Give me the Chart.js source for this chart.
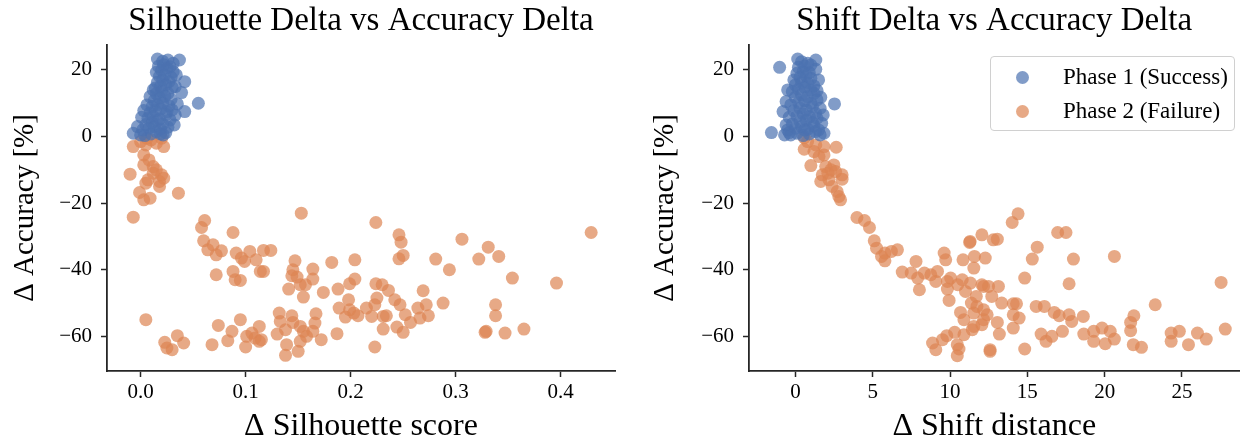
<!DOCTYPE html>
<html>
<head>
<meta charset="utf-8">
<script src="https://cdn.jsdelivr.net/npm/chart.js@4.4.0/dist/chart.umd.min.js"></script>
<style>
  body { margin: 0; background: #fff; }
  #wrap { position: relative; width: 1246px; height: 444px; overflow: hidden; }
  .box { position: absolute; top: 0; height: 444px; }
  #legend {
    position: absolute; left: 990px; top: 56px; width: 245px; height: 75px;
    border: 1px solid #d0d0d0; border-radius: 4px; background: rgba(255,255,255,0.8);
    font-family: 'Liberation Serif', 'DejaVu Serif', serif; font-size: 23px; color: #000;
    box-sizing: border-box;
  }
  .row { position: absolute; left: 0; height: 30px; line-height: 30px; white-space: nowrap; }
  .dot { position: absolute; left: 25px; top: 9px; width: 13px; height: 13px; border-radius: 50%; }
  .lbl { position: absolute; left: 72px; top: 0; }
</style>
</head>
<body>
<div id="wrap">
  <div class="box" style="left:0;width:640px"><canvas id="silChart"></canvas></div>
  <div class="box" style="left:640px;width:606px"><canvas id="shiftChart"></canvas></div>
  <div id="legend"></div>
</div>
<script>
// series labels and tick values
const seriesLabels = ['Phase 1 (Success)', 'Phase 2 (Failure)'];
const accTicks = [-60, -40, -20, 0, 20];
const silTicks = [0, 0.1, 0.2, 0.3, 0.4];
const shiftTicks = [0, 5, 10, 15, 20, 25];

// Phase 1: silhouette delta / accuracy delta
const sil1 = [
  -0.007, 0.000, 0.004, 0.010, 0.015, 0.0215, 0.024, 0.002, 0.008, 0.013, 0.019, 0.005, 0.011, 0.016, 0.021,
  0.007, 0.012, 0.018, 0.024, 0.033, 0.009, 0.014, 0.019, 0.025, 0.042, 0.011, 0.016, 0.021, 0.027, 0.055,
  0.013, 0.018, 0.023, 0.029, 0.015, 0.020, 0.026, 0.039, 0.014, 0.019, 0.024, 0.030, 0.016, 0.021, 0.027,
  0.042, 0.018, 0.023, 0.029, 0.015, 0.020, 0.025, 0.031, 0.017, 0.022, 0.028, 0.016, 0.026, 0.037, 0.021,
  0.006, 0.009, 0.032, 0.028, 0.035, 0.034, -0.003, 0.001, 0.003, 0.026, 0.030, 0.012, 0.033, 0.031, 0.019
];
const accSil1 = [
  1.0, 0.5, 0.3, 0.8, 1.5, 0.5, 1.2, 2.0, 2.6, 3.0, 2.2, 3.6, 4.2, 4.8, 3.8,
  5.5, 6.1, 5.3, 6.6, 6.5, 7.1, 7.8, 8.3, 7.5, 7.5, 9.0, 9.6, 10.1, 9.2, 10.0,
  10.8, 11.6, 12.1, 11.2, 12.9, 13.6, 13.0, 13.2, 14.6, 15.1, 15.6, 14.8, 16.3, 17.0, 16.5,
  16.5, 18.1, 18.6, 17.8, 19.3, 19.9, 20.6, 19.5, 21.1, 21.6, 21.0, 23.3, 23.0, 23.0, 22.6,
  9.5, 12.0, 3.5, 5.0, 9.8, 18.5, 3.0, 5.8, 7.8, 2.8, 8.0, 14.0, 15.0, 22.0, 0.8
];

// Phase 2: silhouette delta / accuracy delta
const sil2 = [
  -0.007, 0.006, 0.015, 0.000, 0.010, 0.020, 0.022, 0.005, 0.003, 0.003, 0.008, 0.012, 0.015, 0.020, 0.022,
  -0.010, 0.012, 0.007, 0.018, 0.018, 0.005, -0.001, 0.009, 0.003, 0.036, -0.007, 0.153,
  0.061, 0.058, 0.088, 0.060, 0.069, 0.064, 0.077, 0.072, 0.091, 0.096, 0.099, 0.104, 0.110, 0.117, 0.124,
  0.114, 0.117, 0.072, 0.088, 0.090, 0.095, 0.147, 0.145, 0.144, 0.149, 0.152, 0.157, 0.141, 0.155, 0.164,
  0.164, 0.174, 0.182, 0.188, 0.198, 0.189, 0.199, 0.195, 0.203, 0.204, 0.204, 0.187,
  0.005, 0.023, 0.025, 0.030, 0.035, 0.041, 0.068, 0.074, 0.083, 0.087, 0.095, 0.101, 0.100, 0.106, 0.113,
  0.113, 0.115, 0.109, 0.130, 0.132, 0.133, 0.138, 0.144, 0.145, 0.139, 0.138, 0.150, 0.152, 0.155, 0.158,
  0.164, 0.166, 0.167, 0.172, 0.152,
  0.224, 0.246, 0.248, 0.250, 0.246, 0.281, 0.294, 0.306, 0.331, 0.322, 0.341, 0.354, 0.396, 0.429, 0.338,
  0.338, 0.329, 0.328, 0.347, 0.365,
  0.199, 0.207, 0.224, 0.230, 0.236, 0.225, 0.223, 0.215, 0.220, 0.231, 0.234, 0.231, 0.223, 0.242, 0.247,
  0.252, 0.257, 0.244, 0.250, 0.269, 0.264, 0.272, 0.274, 0.266, 0.288
];
const accSil2 = [
  -3.0, -0.5, -2.0, -1.5, -1.0, -0.5, -3.0, -2.5, -5.5, -8.5, -7.0, -9.0, -10.0, -11.5, -12.5,
  -11.3, -11.0, -13.0, -13.5, -15.0, -14.0, -16.8, -18.5, -19.0, -17.0, -24.2, -23.0,
  -25.2, -27.3, -28.8, -31.3, -32.5, -34.0, -34.3, -35.5, -35.0, -36.5, -37.5, -34.5, -37.0, -34.2, -34.2,
  -40.5, -40.5, -41.5, -40.5, -43.0, -43.2, -37.3, -40.0, -41.8, -42.2, -44.5, -44.5, -45.8, -48.2, -39.8,
  -42.8, -46.8, -37.8, -45.8, -49.0, -51.5, -52.0, -54.2, -53.0, -42.8, -37.0, -59.2,
  -55.0, -61.8, -63.5, -64.0, -59.8, -62.0, -62.5, -56.7, -61.3, -58.5, -55.0, -60.0, -63.2, -59.0, -57.0,
  -61.5, -61.0, -60.5, -59.3, -53.0, -55.5, -58.0, -53.8, -55.8, -62.5, -65.7, -64.5, -61.5, -58.5, -60.0,
  -58.5, -56.0, -53.2, -61.0, -57.0,
  -25.8, -29.5, -31.7, -35.7, -36.7, -36.8, -40.0, -30.8, -33.2, -36.8, -36.0, -42.5, -44.0, -28.8, -50.5,
  -53.8, -58.5, -58.8, -59.0, -57.8,
  -44.2, -53.8, -44.2, -44.5, -46.2, -48.5, -50.5, -51.5, -54.0, -54.0, -53.8, -57.8, -63.2, -49.0, -50.5,
  -53.5, -55.8, -57.2, -58.8, -46.3, -51.5, -50.5, -53.8, -54.5, -50.0
];

// Phase 1: shift distance delta / accuracy delta
const shift1 = [
  -1.55, -1.02, 1.32, 1.32, 0.15, 2.53, 1.64, 1.85, -0.7, -0.8, -0.3, 0.1, 0.5, 0.9, 1.3,
  -0.5, 0.0, 0.4, 0.8, 1.2, 1.5, -0.2, 0.3, 0.7, 1.1, 1.4, -0.4, 0.1, 0.5, 0.9,
  1.3, -0.1, 0.3, 0.7, 1.1, 1.6, -0.3, 0.2, 0.6, 1.0, 1.4, 0.0, 0.4, 0.8, 1.2,
  -0.2, 0.2, 0.6, 1.0, 1.4, 0.0, 0.4, 0.8, 1.2, -0.1, 0.3, 0.7, 1.0, 0.1, 0.5,
  0.9, 0.2, 0.6, 1.0, 0.4, 0.8, -0.6, -0.5, 1.5, 0.6, -0.6, 1.7, 1.8, -0.4, 1.6
];
const accShift1 = [
  1.2, 20.8, 23.0, 20.2, 23.3, 9.8, 11.8, 1.0, 0.5, 7.5, 0.5, 1.0, 0.3, 0.8, 1.5,
  2.0, 2.5, 3.0, 2.2, 3.2, 2.0, 3.8, 4.5, 5.0, 4.2, 5.5, 5.8, 6.2, 6.8, 6.0,
  7.0, 7.8, 8.5, 8.0, 9.0, 8.5, 9.5, 10.2, 10.8, 10.0, 11.0, 11.8, 12.5, 12.0, 13.0,
  13.5, 14.2, 14.8, 14.0, 13.8, 15.5, 16.2, 16.0, 15.2, 17.0, 17.8, 18.2, 17.5, 19.0, 19.5,
  19.2, 20.8, 21.2, 21.5, 22.5, 22.0, 10.5, 14.0, 17.0, 2.0, 3.5, 4.0, 6.5, 1.2, 0.5
];

// Phase 2: shift distance delta / accuracy delta
const shift2 = [
  0.57, 0.79, 0.57, 1.32, 1.85, 2.64, 1.53, 1.85, 1.0, 1.96, 2.49, 1.74, 2.6, 3.02, 1.64,
  2.17, 3.02, 2.38, 2.7, 2.81, 2.92, 2.1, 2.3, 1.2,
  3.98, 4.47, 4.79, 5.1, 5.25, 5.79, 6.21, 6.6, 5.79, 5.57, 6.91, 7.8, 7.49, 7.91, 8.02,
  8.34, 8.76, 9.19, 9.08, 9.62, 9.72, 9.83, 10.04, 9.83, 9.94,
  8.87, 9.08, 9.51, 9.79, 10.3, 10.47, 10.47, 10.58, 10.9, 10.68, 10.9,
  11.3, 12.06, 10.84, 11.58, 12.28, 11.54, 10.79, 11.32, 12.17, 11.7, 11.38, 12.17, 11.54, 12.59, 12.8, 10.5, 11.0,
  14.4, 14.02, 13.06, 11.27, 16.96, 17.5, 15.64, 15.32, 17.98, 20.63, 14.83, 17.7, 27.53, 23.27,
  12.06, 12.49, 13.13, 12.7, 13.34, 14.09, 14.3, 14.09, 14.47, 14.09, 13.06, 13.19, 11.74, 11.53, 12.4,
  12.17, 12.06, 11.44, 12.59, 14.83,
  15.57, 16.1, 16.74, 17.06, 17.7, 17.87, 18.62, 15.89, 16.21, 16.59, 17.27, 18.65, 19.29, 19.29, 19.83,
  20.04, 20.36, 20.63, 21.68, 21.89, 21.68, 21.85, 22.38, 24.3, 24.3, 24.83, 25.42, 26.0, 26.57, 27.8
];
const accShift2 = [
  -0.3, -1.5, -3.8, -2.5, -3.0, -3.2, -6.0, -5.5, -8.7, -9.0, -8.5, -11.5, -10.5, -11.5, -13.5,
  -13.0, -12.8, -15.0, -16.5, -18.0, -19.0, -11.0, -10.0, -4.5,
  -24.3, -25.2, -27.3, -31.3, -33.5, -35.0, -34.5, -34.0, -37.3, -36.0, -40.7, -37.5, -41.0, -42.5, -46.0,
  -41.0, -41.5, -40.5, -43.5, -35.0, -37.0, -43.5, -42.5, -45.8, -49.2,
  -62.0, -64.0, -61.0, -59.8, -58.8, -62.5, -65.8, -63.8, -59.5, -52.8, -55.0,
  -31.5, -29.5, -37.0, -36.0, -36.5, -39.5, -43.0, -44.0, -45.0, -48.0, -50.0, -52.0, -57.0, -64.0, -31.0, -44.5, -46.5,
  -23.2, -25.8, -30.8, -31.8, -28.8, -28.8, -33.2, -36.8, -36.8, -36.0, -42.5, -44.2, -43.8, -50.5,
  -44.5, -45.0, -45.0, -48.0, -50.0, -50.2, -50.2, -53.5, -54.5, -57.5, -55.8, -59.3, -51.0, -53.0, -53.5,
  -55.0, -56.5, -58.0, -64.5, -63.8,
  -51.0, -51.0, -52.8, -53.8, -53.5, -55.5, -54.0, -59.3, -61.5, -60.0, -58.5, -59.3, -58.5, -61.5, -57.5,
  -62.2, -58.5, -60.8, -55.8, -53.8, -58.3, -62.5, -63.3, -59.0, -61.5, -58.5, -62.5, -59.0, -60.8, -57.8
];

const blue = 'rgba(76, 114, 176, 0.7)';
const orange = 'rgba(221, 132, 82, 0.7)';
const serif = "'Liberation Serif', 'DejaVu Serif', serif";
const axisColor = '#262626';

function toPoints(xs, ys) {
    return xs.map((x, i) => ({ x: x, y: ys[i] }));
}

function fixTicks(values) {
    return function(scale) {
        scale.ticks = values.map(v => ({ value: v }));
    };
}

function minusLabel(v) {
    return v < 0 ? '\u2212' + Math.abs(v) : String(v);
}

function makeChart(id, cfg) {
    const ctx = document.getElementById(id).getContext('2d');
    return new Chart(ctx, {
        type: 'scatter',
        data: {
            datasets: [{
                label: seriesLabels[0],
                data: toPoints(cfg.x1, cfg.y1),
                backgroundColor: blue,
                borderWidth: 0,
                pointRadius: 6.5,
                pointHoverRadius: 6.5
            }, {
                label: seriesLabels[1],
                data: toPoints(cfg.x2, cfg.y2),
                backgroundColor: orange,
                borderWidth: 0,
                pointRadius: 6.5,
                pointHoverRadius: 6.5
            }]
        },
        options: {
            responsive: true,
            maintainAspectRatio: false,
            animation: false,
            layout: { padding: { left: 0, right: cfg.padRight, top: 0, bottom: 0 } },
            plugins: {
                legend: { display: false },
                tooltip: { enabled: false },
                title: {
                    display: true,
                    text: cfg.title,
                    fullSize: false,
                    color: '#000',
                    font: { family: serif, size: 33, weight: 'normal' },
                    padding: { top: 2, bottom: 3.4 }
                }
            },
            scales: {
                x: {
                    type: 'linear',
                    min: cfg.xMin,
                    max: cfg.xMax,
                    afterBuildTicks: fixTicks(cfg.xTicks),
                    afterFit: function(scale) { scale.height = 73; },
                    grid: { drawOnChartArea: false, drawTicks: true, tickLength: 6, tickColor: axisColor, tickWidth: 1.5 },
                    border: { display: true, color: axisColor, width: 1.8 },
                    ticks: {
                        color: '#000',
                        padding: 3,
                        font: { family: serif, size: 21 },
                        callback: cfg.xFormat
                    },
                    title: {
                        display: true,
                        text: cfg.xTitle,
                        color: '#000',
                        font: { family: serif, size: 32 },
                        padding: { top: 0, bottom: -2 }
                    }
                },
                y: {
                    type: 'linear',
                    min: -70.4,
                    max: 27.5,
                    afterBuildTicks: fixTicks(accTicks),
                    afterFit: function(scale) { scale.width = cfg.yWidth; },
                    grid: { drawOnChartArea: false, drawTicks: true, tickLength: 6, tickColor: axisColor, tickWidth: 1.5 },
                    border: { display: true, color: axisColor, width: 1.8 },
                    ticks: {
                        color: '#000',
                        padding: 9,
                        font: { family: serif, size: 21 },
                        callback: minusLabel
                    },
                    title: {
                        display: true,
                        text: '\u0394 Accuracy [%]',
                        color: '#000',
                        font: { family: serif, size: 29 },
                        padding: { top: 8, bottom: 0 }
                    }
                }
            }
        }
    });
}

makeChart('silChart', {
    title: 'Silhouette Delta vs Accuracy Delta',
    xTitle: '\u0394 Silhouette score',
    x1: sil1, y1: accSil1, x2: sil2, y2: accSil2,
    xMin: -0.032, xMax: 0.4517,
    xTicks: silTicks,
    xFormat: v => v.toFixed(1),
    yWidth: 107,
    padRight: 25
});

makeChart('shiftChart', {
    title: 'Shift Delta vs Accuracy Delta',
    xTitle: '\u0394 Shift distance',
    x1: shift1, y1: accShift1, x2: shift2, y2: accShift2,
    xMin: -3.0, xMax: 28.72,
    xTicks: shiftTicks,
    xFormat: v => String(v),
    yWidth: 109,
    padRight: 0
});

// legend drawn as html, from the series labels
const legendColors = [blue, orange];
const legendDiv = document.getElementById('legend');
seriesLabels.forEach((label, i) => {
    const row = document.createElement('div');
    row.className = 'row';
    row.style.top = (5 + i * 34) + 'px';
    row.innerHTML = '<span class="dot" style="background:' + legendColors[i] + '"></span><span class="lbl">' + label + '</span>';
    legendDiv.appendChild(row);
});
</script>
</body>
</html>
